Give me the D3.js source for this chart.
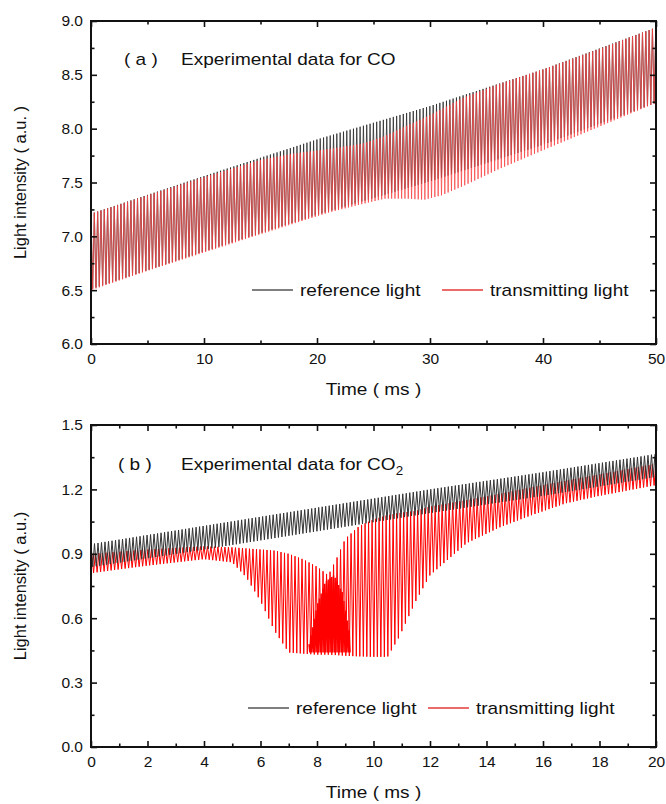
<!DOCTYPE html>
<html>
<head>
<meta charset="utf-8">
<script src="https://cdn.jsdelivr.net/npm/d3@7"></script>
<style>
body { margin: 0; background: #fff; }
text { font-family: "Liberation Sans", Arial, sans-serif; fill: #111; }
</style>
</head>
<body>
<svg id="chart" width="666" height="804"></svg>
<script>
var seriesNames = ['reference light', 'transmitting light']

// panel (a) CO, envelopes of the modulated signal
var refTimeA = [0, 10, 20, 30, 40, 50]
var refHighA = [7.21, 7.56, 7.90, 8.21, 8.55, 8.94]
var refLowA = [6.51, 6.86, 7.20, 7.51, 7.85, 8.24]
var transTimeA = [0, 5, 10, 15, 18, 21, 24, 26, 28, 29.5, 31, 33, 36, 40, 45, 50]
var transHighA = [7.21, 7.38, 7.55, 7.71, 7.77, 7.81, 7.86, 7.93, 8.03, 8.10, 8.18, 8.29, 8.41, 8.55, 8.74, 8.94]
var transLowA = [6.50, 6.68, 6.85, 7.02, 7.12, 7.22, 7.30, 7.35, 7.35, 7.34, 7.38, 7.47, 7.62, 7.80, 8.02, 8.24]

// panel (b) CO2
var refTimeB = [0, 4, 8, 12, 16, 20]
var refHighB = [0.945, 1.03, 1.115, 1.20, 1.28, 1.365]
var refLowB = [0.838, 0.92, 1.005, 1.09, 1.17, 1.258]
var transTimeB = [0, 2, 4, 5, 5.5, 6, 6.5, 7, 7.5, 8, 8.4, 8.7, 9, 9.5, 10, 10.5, 10.9, 11.5, 12, 13.3, 14.5, 15.6, 16.8, 18, 20]
var transHighB = [0.90, 0.92, 0.935, 0.93, 0.925, 0.92, 0.915, 0.90, 0.875, 0.84, 0.80, 0.88, 0.97, 1.03, 1.06, 1.08, 1.09, 1.10, 1.12, 1.15, 1.18, 1.21, 1.24, 1.27, 1.32]
var transLowB = [0.81, 0.845, 0.875, 0.86, 0.79, 0.68, 0.54, 0.44, 0.435, 0.43, 0.43, 0.428, 0.425, 0.422, 0.42, 0.42, 0.51, 0.68, 0.80, 0.95, 1.025, 1.08, 1.135, 1.17, 1.22]
// dense red patch near the bottom of the dip
var blobTimeB = [7.7, 8.0, 8.3, 8.6, 8.9, 9.2]
var blobHighB = [0.47, 0.66, 0.77, 0.80, 0.72, 0.50]
var blobLowB = [0.44, 0.44, 0.44, 0.44, 0.44, 0.44]

var xTicksA = [0, 10, 20, 30, 40, 50]
var xMinorA = [5, 15, 25, 35, 45]
var yTicksA = [6.0, 6.5, 7.0, 7.5, 8.0, 8.5, 9.0]
var yMinorA = [6.25, 6.75, 7.25, 7.75, 8.25, 8.75]
var xTicksB = [0, 2, 4, 6, 8, 10, 12, 14, 16, 18, 20]
var xMinorB = [1, 3, 5, 7, 9, 11, 13, 15, 17, 19]
var yTicksB = [0.0, 0.3, 0.6, 0.9, 1.2, 1.5]
var yMinorB = [0.15, 0.45, 0.75, 1.05, 1.35]

var svg = d3.select('#chart')
var left = 91, right = 656

// the lamp is modulated, so each envelope is drawn as the swing between its high and low values
function swing(times, highs, lows, period, phase) {
  var hi = d3.scaleLinear().domain(times).range(highs)
  var lo = d3.scaleLinear().domain(times).range(lows)
  var start = times[0], end = times[times.length - 1]
  var pts = []
  for (var k = 0; start + phase + k * period / 2 <= end; k++) {
    var t = start + phase + k * period / 2
    pts.push([t, k % 2 ? lo(t) : hi(t)])
  }
  return pts
}

// the figure's lettering is a bit wider than Arial
function wideText(g, x, y, str, anchor) {
  return g.append('text')
    .attr('font-size', 17)
    .attr('text-anchor', anchor || 'start')
    .attr('transform', 'translate(' + x + ',' + y + ') scale(1.12,1)')
    .text(str)
}

function drawPanel(p) {
  var g = svg.append('g')
  var x = d3.scaleLinear().domain(p.xDomain).range([left, right])
  var y = d3.scaleLinear().domain(p.yDomain).range([p.bottom, p.top])

  g.append('clipPath').attr('id', 'clip' + p.id)
    .append('rect')
    .attr('x', left).attr('y', p.top)
    .attr('width', right - left).attr('height', p.bottom - p.top)

  var line = d3.line()
    .x(function(d) { return x(d[0]) })
    .y(function(d) { return y(d[1]) })

  p.series.forEach(function(s) {
    g.append('path')
      .datum(s.points)
      .attr('clip-path', 'url(#clip' + p.id + ')')
      .attr('fill', 'none')
      .attr('stroke', s.color)
      .attr('stroke-width', s.width)
      .attr('d', line)
  })

  var major = 6, minor = 3.5
  g.append('g').attr('transform', 'translate(0,' + p.bottom + ')')
    .call(d3.axisBottom(x).tickValues(p.xTicks).tickSize(-major).tickPadding(9).tickFormat(d3.format('d')))
  g.append('g').attr('transform', 'translate(0,' + p.bottom + ')')
    .call(d3.axisBottom(x).tickValues(p.xMinor).tickSize(-minor).tickFormat(''))
  g.append('g').attr('transform', 'translate(0,' + p.top + ')')
    .call(d3.axisTop(x).tickValues(p.xTicks).tickSize(-major).tickFormat(''))
  g.append('g').attr('transform', 'translate(0,' + p.top + ')')
    .call(d3.axisTop(x).tickValues(p.xMinor).tickSize(-minor).tickFormat(''))
  g.append('g').attr('transform', 'translate(' + left + ',0)')
    .call(d3.axisLeft(y).tickValues(p.yTicks).tickSize(-major).tickPadding(8).tickFormat(d3.format('.1f')))
  g.append('g').attr('transform', 'translate(' + left + ',0)')
    .call(d3.axisLeft(y).tickValues(p.yMinor).tickSize(-minor).tickFormat(''))
  g.append('g').attr('transform', 'translate(' + right + ',0)')
    .call(d3.axisRight(y).tickValues(p.yTicks).tickSize(-major).tickFormat(''))
  g.append('g').attr('transform', 'translate(' + right + ',0)')
    .call(d3.axisRight(y).tickValues(p.yMinor).tickSize(-minor).tickFormat(''))

  g.selectAll('.domain').remove()
  g.selectAll('.tick line').attr('stroke', '#111').attr('stroke-width', 1.6)
  g.selectAll('.tick text').attr('font-size', 15.5).attr('fill', '#111')
    .attr('font-family', '"Liberation Sans", Arial, sans-serif')

  g.append('rect')
    .attr('x', left).attr('y', p.top)
    .attr('width', right - left).attr('height', p.bottom - p.top)
    .attr('fill', 'none').attr('stroke', '#111').attr('stroke-width', 2)

  wideText(g, p.tagX, p.titleY, p.tag)
  var title = wideText(g, 181, p.titleY, p.title)
  if (p.sub) {
    title.append('tspan').attr('font-size', 12).attr('dy', 5).text(p.sub)
  }

  g.append('text')
    .attr('font-size', 16.5)
    .attr('text-anchor', 'middle')
    .attr('transform', 'translate(26,' + (p.top + p.bottom) / 2 + ') rotate(-90)')
    .text(p.yLabel)
  wideText(g, (left + right) / 2, p.bottom + 51, 'Time ( ms )', 'middle')

  var lg = g.append('g')
  p.legend.forEach(function(l, i) {
    lg.append('line')
      .attr('x1', l.x).attr('x2', l.x + 41)
      .attr('y1', p.legendY).attr('y2', p.legendY)
      .attr('stroke', l.color).attr('stroke-width', 1.3)
    wideText(lg, l.x + 48, p.legendY + 6, seriesNames[i])
  })
}

drawPanel({
  id: 'a', xDomain: [0, 50], yDomain: [6, 9], top: 21, bottom: 344,
  xTicks: xTicksA, xMinor: xMinorA, yTicks: yTicksA, yMinor: yMinorA,
  series: [
    {points: swing(refTimeA, refHighA, refLowA, 0.294, 0), color: '#2a2a2a', width: 0.8},
    {points: swing(transTimeA, transHighA, transLowA, 0.294, 0), color: '#f84444', width: 0.75}
  ],
  tag: '( a )', title: 'Experimental data for CO', tagX: 124, titleY: 65,
  yLabel: 'Light intensity ( a.u. )',
  legendY: 290, legend: [{x: 252, color: '#555'}, {x: 442, color: '#e53a3a'}]
})

drawPanel({
  id: 'b', xDomain: [0, 20], yDomain: [0, 1.5], top: 425, bottom: 747,
  xTicks: xTicksB, xMinor: xMinorB, yTicks: yTicksB, yMinor: yMinorB,
  series: [
    {points: swing(transTimeB, transHighB, transLowB, 0.124, 0.03), color: '#ff0000', width: 1},
    {points: swing(blobTimeB, blobHighB, blobLowB, 0.062, 0.015), color: '#ff0000', width: 1.4},
    {points: swing(refTimeB, refHighB, refLowB, 0.124, 0), color: '#333', width: 1}
  ],
  tag: '( b )', title: 'Experimental data for CO', sub: '2', tagX: 118, titleY: 470,
  yLabel: 'Light intensity ( a.u.)',
  legendY: 708, legend: [{x: 248, color: '#555'}, {x: 428, color: '#e53a3a'}]
})
</script>
</body>
</html>
